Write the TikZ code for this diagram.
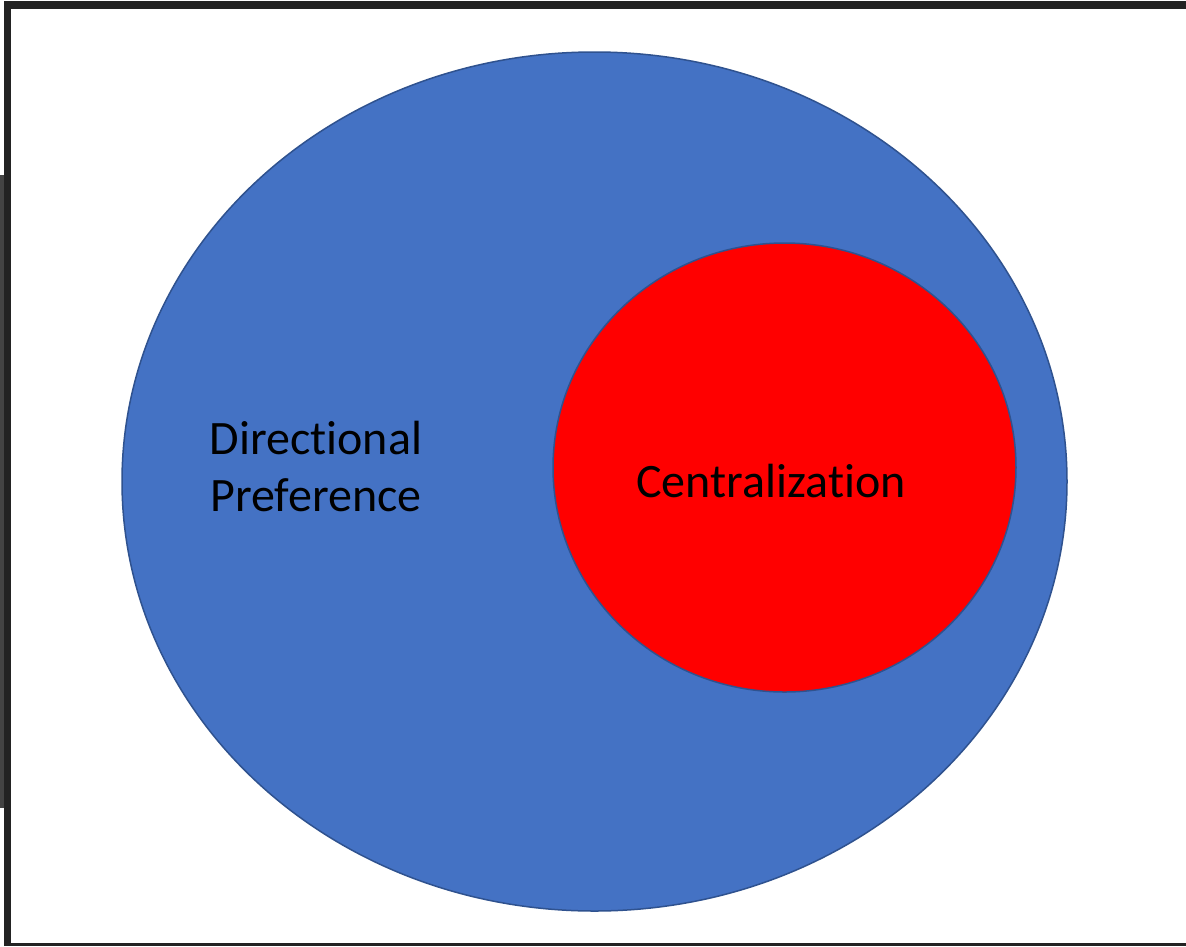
\documentclass[tikz,border=0pt]{standalone}
\usepackage{fontspec}
\usetikzlibrary{shapes.geometric}
\setmainfont[Ligatures={NoCommon,NoDiscretionary,NoRare}]{Carlito}
\definecolor{blueF}{HTML}{4472C4}
\definecolor{blueB}{HTML}{2F528F}
\definecolor{frameC}{HTML}{232323}
\begin{document}
\begin{tikzpicture}[x=1pt,y=-1pt,
  lbl/.style={font=\fontsize{48}{57}\selectfont, text=black, align=center, inner sep=0pt}]
\useasboundingbox (0,0) rectangle (1186,946);
\fill[white] (0,0) rectangle (1186,946);
% frame
\fill[frameC] (4,1) rectangle (1186,9);
\fill[frameC] (4,1) rectangle (11,946);
\fill[frameC] (4,943) rectangle (1186,946);
\fill[frameC!85!white] (0,175) rectangle (4,808);
% ellipses
\node[draw=blueB, line width=1.5pt, fill=blueF, ellipse, minimum width=945, minimum height=859, inner sep=0pt] (dp) at (594.5,481.5) {};
\node[draw=blueB, line width=1.5pt, fill=red, ellipse, minimum width=463, minimum height=449, inner sep=0pt] (ce) at (784.5,467.5) {};
\node[lbl] (dpt) at (316,466) {Directional\\Preference};
\node[lbl] (cet) at (771,481) {Centralization};
\end{tikzpicture}
\end{document}
